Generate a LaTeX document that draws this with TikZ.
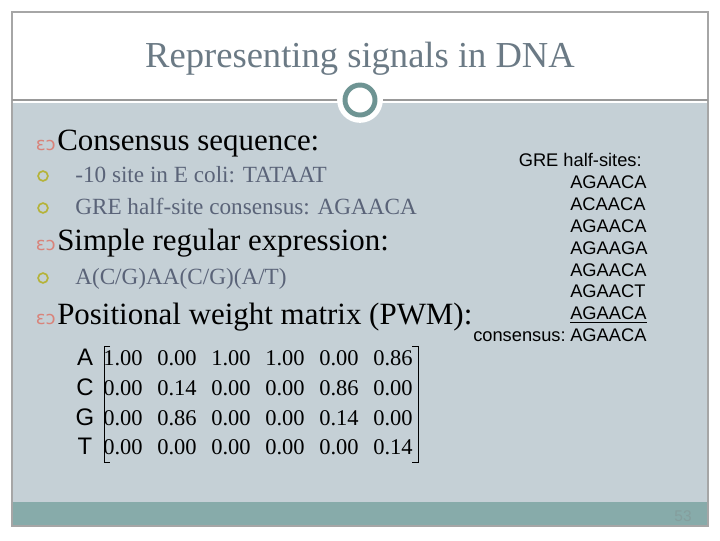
\documentclass[tikz,border=0pt]{standalone}
\usepackage{fontspec}
\setmainfont{Liberation Serif}
\newfontfamily\arialfont{Liberation Sans}
\newfontfamily\symfont{DejaVu Sans}
\usetikzlibrary{positioning,calc}
\definecolor{slidegray}{HTML}{C5D0D6}
\definecolor{footteal}{HTML}{87ABAA}
\definecolor{ringteal}{HTML}{6E9493}
\definecolor{titlegray}{HTML}{6B7A85}
\definecolor{subblue}{HTML}{5A6378}
\definecolor{olive}{HTML}{B5B33A}
\definecolor{pinkbul}{HTML}{D9837A}
\tikzset{
  head/.style={anchor=base west,inner sep=0pt,font=\fontsize{22}{25}\selectfont},
  sub/.style={anchor=base west,inner sep=0pt,text=subblue,font=\fontsize{16.5}{19}\selectfont},
  subdot/.style={circle,draw=olive,line width=1.2pt,inner sep=0pt,minimum size=7pt},
  seq/.style={anchor=base west,inner sep=0pt,font=\arialfont\fontsize{13}{15}\selectfont},
  rowlab/.style={anchor=base,font=\arialfont\fontsize{17}{19}\selectfont},
  num/.style={anchor=base,font=\fontsize{16}{18}\selectfont}
}
\begin{document}
\begin{tikzpicture}[x=0.025cm,y=-0.025cm]
    \useasboundingbox (0,0) rectangle (720,540);
    % slide frame
    \fill[white] (0,0) rectangle (720,540);
    \fill[slidegray] (12,103) rectangle (708,502);
    \fill[footteal] (12,502) rectangle (708,526);
    \draw[gray!70, line width=0.8pt] (12,12) rectangle (708,526);
    \draw[gray!80, line width=0.8pt] (12,100)--(708,100);
    \filldraw[fill=white, draw=white, line width=4pt](360,100)circle(20);
    \draw[ringteal, line width=3.5pt](360,100)circle(15);
    \node[text=titlegray, font=\fontsize{26}{30}\selectfont, anchor=base](title)at(360,67){Representing signals in DNA};

    % left column
    \node[head](cons)at(57,150){Consensus sequence:};
    \node[head](regex)at(57,250){Simple regular expression:};
    \node[head](pwm)at(57,324){Positional weight matrix (PWM):};
    \foreach \y/\nm in {150/b1,250/b2,324/b3}
        \node[text=pinkbul, font=\symfont\fontsize{13}{14}\selectfont, anchor=base east, inner sep=0pt](\nm)at(56,\y){ɛɔ};
    \node[sub](s1)at(75,182){-10 site in E coli: TATAAT};
    \node[sub](s2)at(75,214){GRE half-site consensus: AGAACA};
    \node[sub](s3)at(75,284){A(C/G)AA(C/G)(A/T)};
    \foreach \y/\nm in {176/d1,208/d2,278/d3}
        \node[subdot](\nm)at(43,\y){};

    % matrix
    \foreach \l [count=\i] in {A,C,G,T}
        \node[rowlab](r\i)at(85,336+\i*30-\i*0.3){\l};
    \foreach \row [count=\i] in {{1.00,0.00,1.00,1.00,0.00,0.86},{0.00,0.14,0.00,0.00,0.86,0.00},{0.00,0.86,0.00,0.00,0.14,0.00},{0.00,0.00,0.00,0.00,0.00,0.14}}
        \foreach \v [count=\j] in \row
            \node[num](m\i\j)at(69+\j*54,336+\i*30-\i*0.3){\v};
    \draw[line width=0.7pt](110,346)--(104,346)--(104,462)--(110,462);
    \draw[line width=0.7pt](412,346)--(418,346)--(418,462)--(412,462);

    % right column
    \node[seq, anchor=base east](gre)at(642,166){GRE half-sites:};
    \foreach \s [count=\i] in {AGAACA,ACAACA,AGAACA,AGAAGA,AGAACA,AGAACT,AGAACA,AGAACA}
        \node[seq](q\i)at(570,167+\i*21.8){\s};
    \draw[line width=0.8pt]($(q7.south west)+(0,2)$)--($(q7.south east)+(0,2)$);
    \node[seq, anchor=base east](consl)at(566,341.4){consensus:\ };

    \node[text=footteal!70!gray, font=\arialfont\fontsize{11}{12}\selectfont](page)at(683,516){53};
\end{tikzpicture}
\end{document}
